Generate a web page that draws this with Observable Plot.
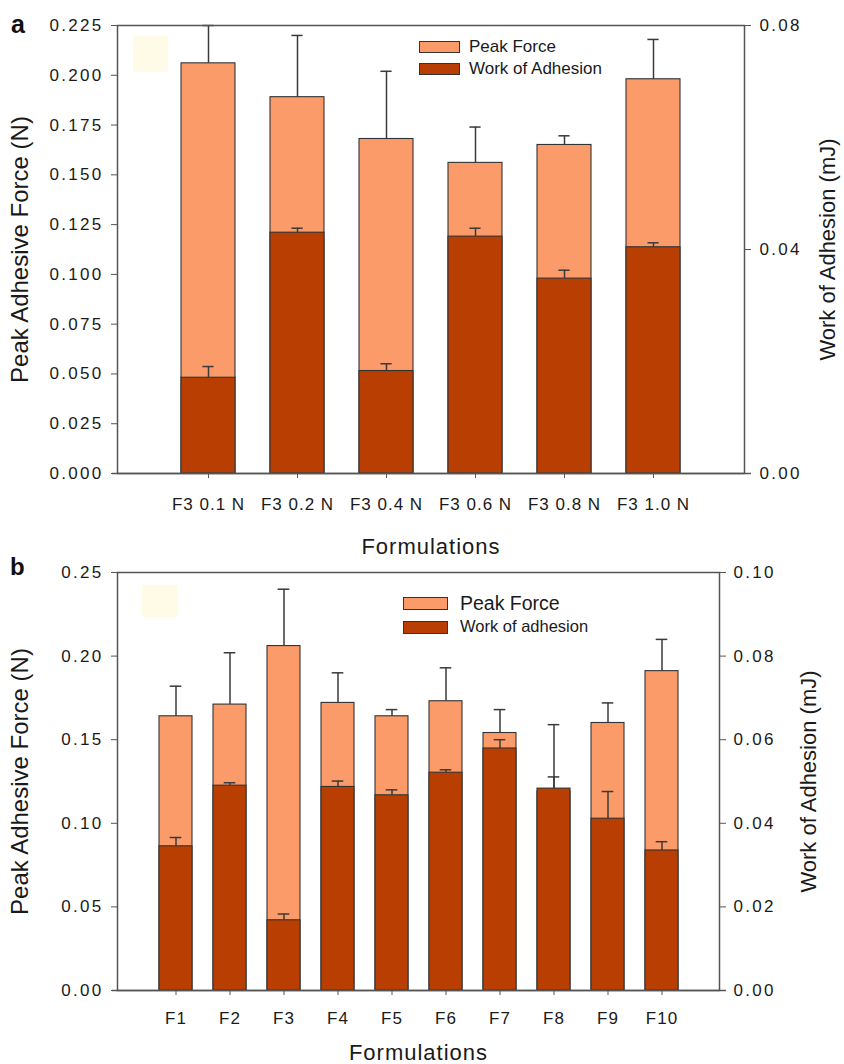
<!DOCTYPE html>
<html><head><meta charset="utf-8">
<script src="https://cdn.jsdelivr.net/npm/d3@7"></script>
<script src="https://cdn.jsdelivr.net/npm/@observablehq/plot@0.6"></script>
<style>
body{margin:0;background:#fff;}
#wrap{width:844px;height:1064px;position:relative;overflow:hidden;font-family:"Liberation Sans",Arial,sans-serif;color:#1a1a1a;}
.panel{position:relative;width:844px;}
.panel svg{display:block;}
.sw{position:absolute;box-sizing:border-box;border:1.3px solid #333;}
.lt{position:absolute;line-height:1;white-space:nowrap;color:#1a1a1a;}
.pl{position:absolute;line-height:1;font-weight:bold;color:#111;}
.ghost{position:absolute;background:#fffbe6;}
g[aria-label="y-axis tick label"] text{letter-spacing:2.3px}
g[aria-label="x-axis tick label"] text{letter-spacing:1px}
g[aria-label="x-axis label"] text{font-size:22px;letter-spacing:1px}
</style>
</head><body>
<div id="wrap"></div>
<script>
// ---------- Panel a data ----------
const namesA = ["F3 0.1 N", "F3 0.2 N", "F3 0.4 N", "F3 0.6 N", "F3 0.8 N", "F3 1.0 N"];
const peakA = [0.206, 0.189, 0.168, 0.156, 0.165, 0.198];
const peakErrA = [0.019, 0.031, 0.034, 0.018, 0.0046, 0.020];
const workA = [0.0171, 0.0430, 0.0183, 0.0423, 0.0348, 0.0404];
const workErrA = [0.0020, 0.0008, 0.0013, 0.0015, 0.0015, 0.0008];
const leftTicksA = [0, 0.025, 0.05, 0.075, 0.1, 0.125, 0.15, 0.175, 0.2, 0.225];
const rightTicksA = [0, 0.04, 0.08];

// ---------- Panel b data ----------
const namesB = ["F1", "F2", "F3", "F4", "F5", "F6", "F7", "F8", "F9", "F10"];
const peakB = [0.164, 0.171, 0.206, 0.172, 0.164, 0.173, 0.154, 0.119, 0.160, 0.191];
const peakErrB = [0.018, 0.031, 0.034, 0.018, 0.004, 0.020, 0.014, 0.040, 0.012, 0.019];
const workB = [0.0345, 0.0490, 0.0168, 0.0487, 0.0467, 0.0521, 0.0579, 0.0483, 0.0411, 0.0335];
const workErrB = [0.0021, 0.0007, 0.0015, 0.0014, 0.0013, 0.0007, 0.0021, 0.0028, 0.0065, 0.0021];
const leftTicksB = [0, 0.05, 0.1, 0.15, 0.2, 0.25];
const rightTicksB = [0, 0.02, 0.04, 0.06, 0.08, 0.10];

const PEAK = "#FA9B69";
const WORK = "#B93E02";
const EDGE = "#333333";
const AXIS = "#555555";

function makePanel(cfg) {
  const k = cfg.yMax / cfg.rMax;
  const rows = cfg.names.map((n, i) => ({
    name: n,
    peak: cfg.peak[i],
    peakTop: cfg.peak[i] + cfg.peakErr[i],
    work: cfg.work[i] * k,
    workTop: (cfg.work[i] + cfg.workErr[i]) * k
  }));
  const err = {stroke: "#3a3a3a", strokeWidth: 1.5};
  const svg = Plot.plot({
    width: 844,
    height: cfg.height,
    marginTop: cfg.mt, marginBottom: cfg.mb, marginLeft: cfg.ml, marginRight: cfg.mr,
    style: {fontFamily: '"Liberation Sans", Arial, sans-serif', fontSize: "17px", color: "#1a1a1a", background: "transparent", overflow: "visible"},
    x: {type: "band", domain: cfg.names, paddingInner: 0.39, paddingOuter: 0.695, align: 0.5},
    y: {domain: [0, cfg.yMax]},
    marks: [
      Plot.barY(rows, {x: "name", y: "peak", fill: PEAK, stroke: EDGE, strokeWidth: 1.1}),
      Plot.ruleX(rows, {x: "name", y1: "peak", y2: "peakTop", ...err}),
      Plot.tickY(rows, {x: "name", y: "peakTop", insetLeft: cfg.cap, insetRight: cfg.cap, ...err}),
      Plot.barY(rows, {x: "name", y: "work", fill: WORK, stroke: EDGE, strokeWidth: 1.1}),
      Plot.ruleX(rows, {x: "name", y1: "work", y2: "workTop", ...err}),
      Plot.tickY(rows, {x: "name", y: "workTop", insetLeft: cfg.cap, insetRight: cfg.cap, ...err}),
      Plot.frame({stroke: AXIS, strokeWidth: 1.5}),
      Plot.ruleY([0], {stroke: AXIS, strokeWidth: 1.5, insetLeft: -5, insetRight: -7}),
      Plot.axisY(cfg.leftTicks, {anchor: "left", tickSize: 6, tickPadding: 8, stroke: AXIS,
        tickFormat: d3.format(cfg.lf), label: "Peak Adhesive Force (N)", labelAnchor: "center",
        labelOffset: cfg.llo, labelArrow: "none"}),
      Plot.axisY(cfg.rightTicks.map(v => v * k), {anchor: "right", tickSize: 6, tickPadding: cfg.rtp, stroke: AXIS,
        tickFormat: d => d3.format(".2f")(d / k), label: "Work of Adhesion (mJ)", labelAnchor: "center",
        labelOffset: cfg.rlo, labelArrow: "none"}),
      Plot.axisX({tickSize: 5, tickPadding: cfg.xtp, stroke: AXIS, label: "Formulations",
        labelAnchor: "center", labelOffset: cfg.xlo, labelArrow: "none"})
    ]
  });
  d3.select(svg).selectAll('g[aria-label="y-axis label"] text').each(function () {
    const t = d3.select(this);
    if (t.text().startsWith("Peak")) t.style("font-size", "24px");
    else t.style("font-size", "22px");
  });
  return svg;
}

const wrap = document.getElementById("wrap");

function addPanel(cfg, legend, letter, ghost) {
  const div = document.createElement("div");
  div.className = "panel";
  div.style.height = cfg.height + "px";
  div.appendChild(makePanel(cfg));
  const g = document.createElement("div");
  g.className = "ghost";
  Object.assign(g.style, {left: ghost[0] + "px", top: ghost[1] + "px", width: ghost[2] + "px", height: ghost[3] + "px"});
  div.appendChild(g);
  legend.forEach(item => {
    const s = document.createElement("div");
    s.className = "sw";
    Object.assign(s.style, {left: item.sx + "px", top: item.sy + "px", width: item.sw + "px", height: item.sh + "px", background: item.color});
    div.appendChild(s);
    const t = document.createElement("div");
    t.className = "lt";
    t.textContent = item.text;
    Object.assign(t.style, {left: item.tx + "px", top: (item.base - 0.8465 * item.fs) + "px", fontSize: item.fs + "px"});
    div.appendChild(t);
  });
  const l = document.createElement("div");
  l.className = "pl";
  l.textContent = letter.text;
  Object.assign(l.style, {left: letter.x + "px", top: (letter.base - 0.8465 * letter.fs) + "px", fontSize: letter.fs + "px"});
  div.appendChild(l);
  wrap.appendChild(div);
}

addPanel({
  names: namesA, peak: peakA, peakErr: peakErrA, work: workA, workErr: workErrA,
  yMax: 0.225, rMax: 0.08, leftTicks: leftTicksA, rightTicks: rightTicksA, lf: ".3f",
  height: 558, mt: 25, mb: 85, ml: 117, mr: 100, cap: 21.4,
  llo: 107, rlo: 90, rtp: 9, xtp: 19, xlo: 80
}, [
  {text: "Peak Force", color: PEAK, sx: 419, sy: 41, sw: 41, sh: 12, tx: 469, base: 52.7, fs: 17},
  {text: "Work of Adhesion", color: WORK, sx: 419, sy: 63, sw: 41, sh: 12, tx: 469, base: 74.3, fs: 17}
], {text: "a", x: 11, base: 33.3, fs: 25}, [133, 36, 35, 36]);

addPanel({
  names: namesB, peak: peakB, peakErr: peakErrB, work: workB, workErr: workErrB,
  yMax: 0.25, rMax: 0.10, leftTicks: leftTicksB, rightTicks: rightTicksB, lf: ".2f",
  height: 506, mt: 14, mb: 74, ml: 117, mr: 125, cap: 10.7,
  llo: 107, rlo: 96, rtp: 8, xtp: 16, xlo: 69
}, [
  {text: "Peak Force", color: PEAK, sx: 403, sy: 39.3, sw: 45, sh: 12.7, tx: 460, base: 53, fs: 19.5},
  {text: "Work of adhesion", color: WORK, sx: 403, sy: 63, sw: 45, sh: 12.7, tx: 460, base: 73.7, fs: 16.5}
], {text: "b", x: 10, base: 17.7, fs: 24}, [142, 27, 36, 32]);
</script>
</body></html>
